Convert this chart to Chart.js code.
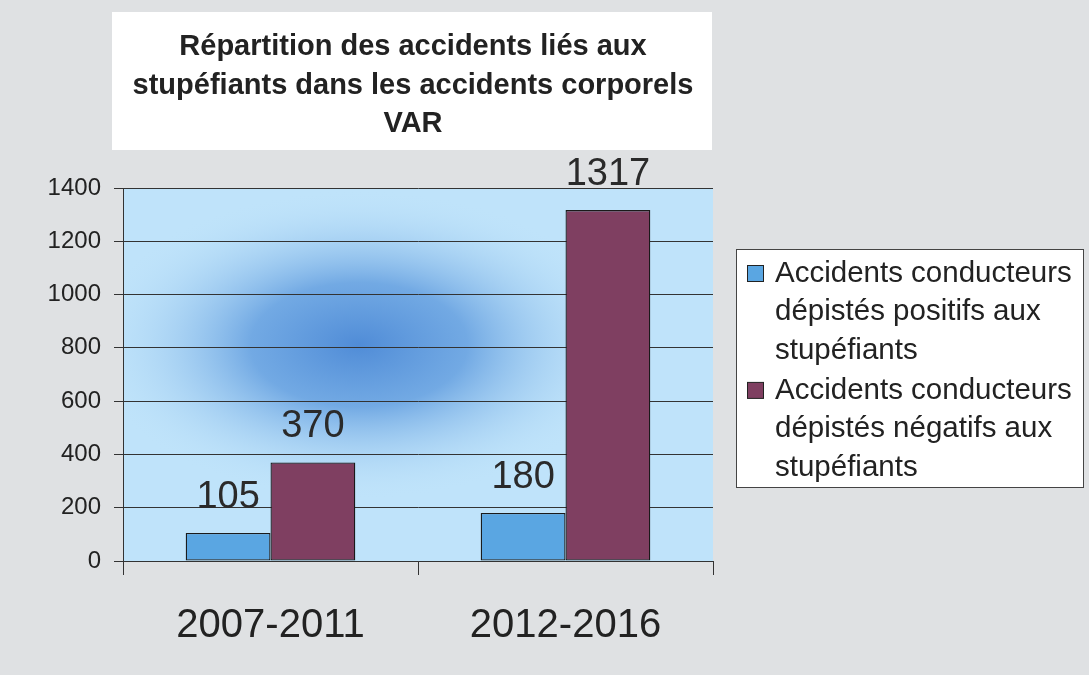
<!DOCTYPE html>
<html><head><meta charset="utf-8">
<script src="https://cdn.jsdelivr.net/npm/chart.js@4.4.1/dist/chart.umd.min.js"></script>
<style>
html,body{margin:0;padding:0;background:#dfe1e3;}
#wrap{position:relative;width:1089px;height:675px;}
canvas{display:block;}
</style></head>
<body><div id="wrap"><canvas id="c" width="1089" height="675"></canvas></div>
<script>
const titleLines = ["Répartition des accidents liés aux", "stupéfiants dans les accidents corporels", "VAR"];
const categories = ["2007-2011", "2012-2016"];
const seriesNames = ["Accidents conducteurs dépistés positifs aux stupéfiants", "Accidents conducteurs dépistés négatifs aux stupéfiants"];
const positifs = [105, 180];
const negatifs = [370, 1317];
const yTicks = [0, 200, 400, 600, 800, 1000, 1200, 1400];
const seriesColors = ["#5aa6e2", "#7f3f61"];

const FONT = "'Liberation Sans', Arial, sans-serif";

const bgPlugin = {
  id: 'bg',
  beforeDraw(chart) {
    const {ctx, chartArea: a} = chart;
    ctx.save();
    ctx.fillStyle = '#dfe1e3';
    ctx.fillRect(0, 0, chart.width, chart.height);
    // plot area
    ctx.fillStyle = '#bfe3fa';
    ctx.fillRect(a.left, a.top, a.right - a.left, a.bottom - a.top);
    ctx.save();
    ctx.beginPath(); ctx.rect(a.left, a.top, a.right - a.left, a.bottom - a.top); ctx.clip();
    const cx = a.left + (a.right - a.left) * 0.4, cy = a.top + (a.bottom - a.top) * 0.42;
    ctx.translate(cx, cy); ctx.scale(1.75, 1);
    const g = ctx.createRadialGradient(0, 0, 0, 0, 0, 155);
    g.addColorStop(0, 'rgba(80,140,215,1)');
    g.addColorStop(0.4, 'rgba(95,155,222,0.8)');
    g.addColorStop(1, 'rgba(191,227,250,0)');
    ctx.fillStyle = g;
    ctx.fillRect(-400, -300, 800, 600);
    ctx.restore();
    // title box
    ctx.fillStyle = '#ffffff';
    ctx.fillRect(112, 12, 600, 138);
    ctx.fillStyle = '#222';
    ctx.font = 'bold 29px ' + FONT;
    ctx.textAlign = 'center'; ctx.textBaseline = 'middle';
    titleLines.forEach((t, i) => ctx.fillText(t, 413, 47 + i * 38.5));
    // legend box
    ctx.fillStyle = '#ffffff';
    ctx.fillRect(736.5, 249.5, 347, 238);
    ctx.strokeStyle = '#444'; ctx.lineWidth = 1;
    ctx.strokeRect(736.5, 249.5, 347, 238);
    ctx.font = '29.5px ' + FONT;
    ctx.textAlign = 'left';
    let y = 274;
    chart.data.datasets.forEach((ds, i) => {
      ctx.fillStyle = ds.backgroundColor;
      ctx.fillRect(747.5, y - 8.5, 16, 16);
      ctx.strokeStyle = '#222'; ctx.strokeRect(747.5, y - 8.5, 16, 16);
      ctx.fillStyle = '#222';
      const words = ds.label.split(' ');
      let lines = [], cur = '';
      words.forEach(w => {
        const test = cur ? cur + ' ' + w : w;
        if (ctx.measureText(test).width > 305 && cur) { lines.push(cur); cur = w; } else cur = test;
      });
      lines.push(cur);
      lines.forEach((l, j) => { ctx.fillText(l, 775, y); y += 38.3; });
      y += 2;
    });
    ctx.restore();
  }
};

const labelPlugin = {
  id: 'vlabels',
  afterDatasetsDraw(chart) {
    const ctx = chart.ctx;
    ctx.save();
    ctx.font = '38px ' + FONT;
    ctx.fillStyle = '#2a2a2a';
    ctx.textAlign = 'center'; ctx.textBaseline = 'alphabetic';
    chart.data.datasets.forEach((ds, i) => {
      chart.getDatasetMeta(i).data.forEach((bar, j) => {
        ctx.fillText(String(ds.data[j]), bar.x, bar.y - 25);
      });
    });
    ctx.restore();
  }
};

new Chart(document.getElementById('c'), {
  type: 'bar',
  data: {
    labels: categories,
    datasets: [
      {label: seriesNames[0], data: positifs, backgroundColor: seriesColors[0], borderColor: '#1a1a1a', borderWidth: 1.3, borderSkipped: false},
      {label: seriesNames[1], data: negatifs, backgroundColor: seriesColors[1], borderColor: '#1a1a1a', borderWidth: 1.3, borderSkipped: false}
    ]
  },
  options: {
    responsive: false,
    animation: false,
    layout: {padding: {left: 41, top: 188, right: 376, bottom: 0}},
    plugins: {legend: {display: false}, title: {display: false}, tooltip: {enabled: false}},
    datasets: {bar: {categoryPercentage: 0.575, barPercentage: 1}},
    scales: {
      x: {
        grid: {drawOnChartArea: false, drawTicks: true, tickLength: 14, color: '#333', offset: true},
        border: {color: '#333', width: 1},
        ticks: {font: {size: 40, family: FONT}, color: '#222', padding: 27},
        afterFit(s) { s.height = 114; }
      },
      y: {
        min: 0, max: 1400,
        afterBuildTicks(s) { s.ticks = yTicks.map(v => ({value: v})); },
        grid: {color: '#333', tickLength: 9, lineWidth: 1},
        border: {color: '#333', width: 1},
        ticks: {font: {size: 24, family: FONT}, color: '#222', padding: 13, callback: v => String(v)},
        afterFit(s) { s.width = 82; }
      }
    }
  },
  plugins: [bgPlugin, labelPlugin]
});
</script></body></html>
